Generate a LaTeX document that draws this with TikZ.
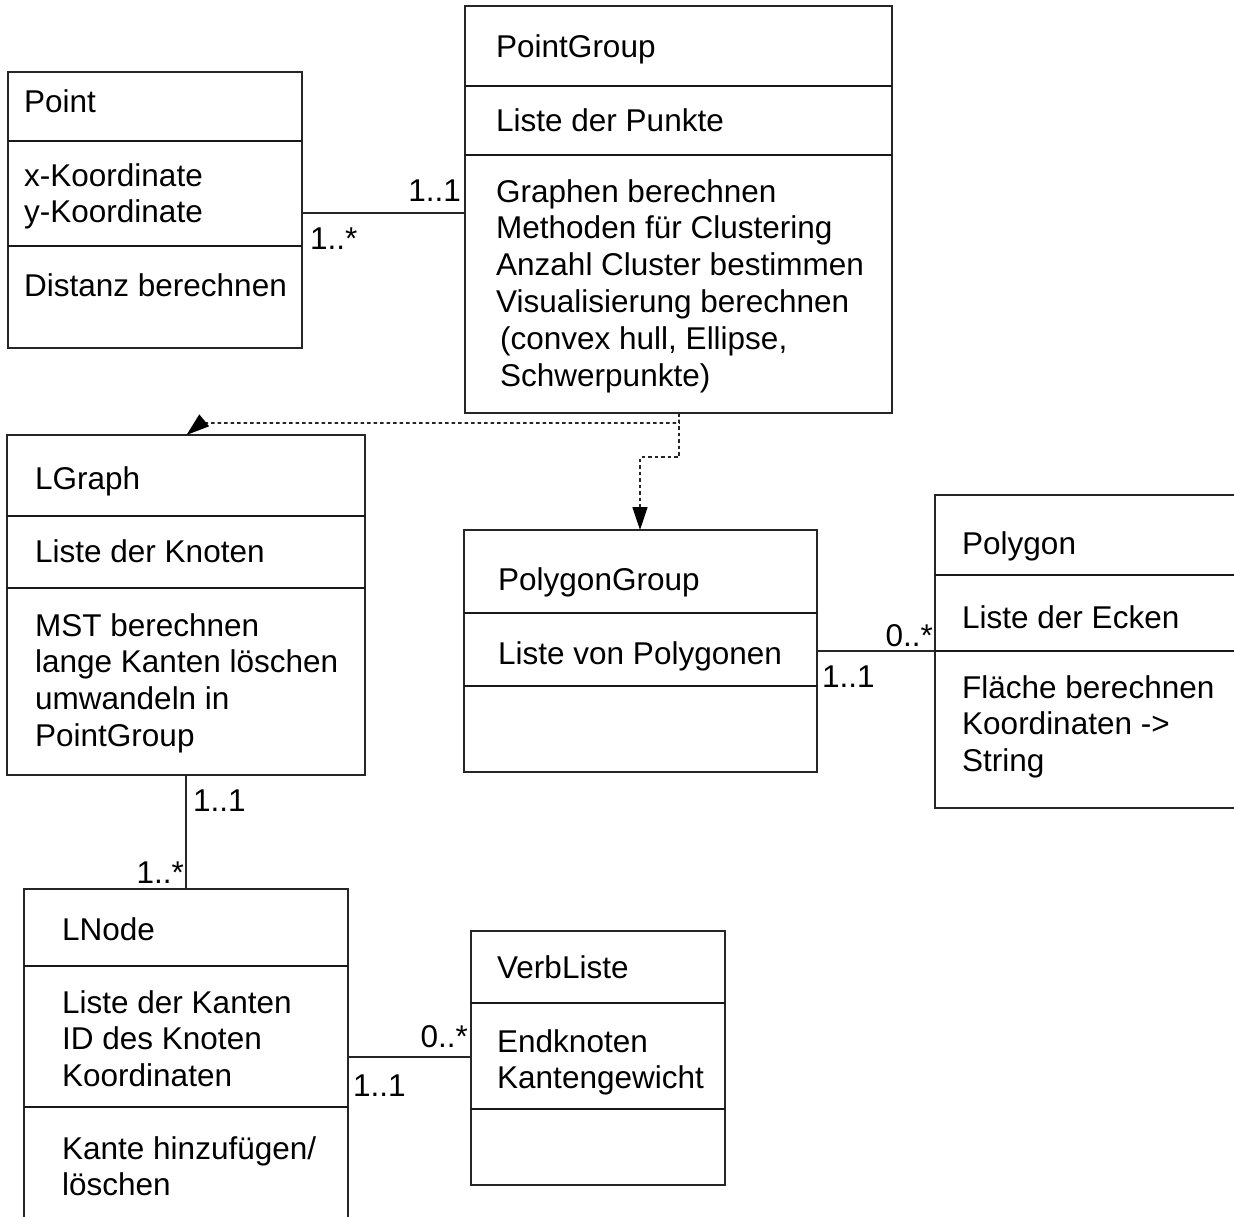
\documentclass[tikz,border=0pt]{standalone}
\usepackage{fontspec}
\usetikzlibrary{arrows.meta}
\newfontfamily\umlsans{Liberation Sans}
\newcommand\umlfont{\umlsans\fontsize{31.5}{36.8}\selectfont}
\tikzset{
  cls/.style={draw=black!85, line width=1.4pt, anchor=north west, inner sep=0pt, outer sep=0pt},
  sep/.style={draw=black!90, line width=1.4pt},
  txt/.style={anchor=north west, inner sep=0pt, align=left, font=\umlfont},
  mult/.style={inner sep=0pt, font=\umlfont},
  assoc/.style={draw=black!85, line width=1.4pt},
  dep/.style={draw=black!85, line width=1.7pt, dash pattern=on 3.5pt off 3pt,
    -{Triangle[length=23pt,width=15pt,color=black]}},
}
\begin{document}
\begin{tikzpicture}[x=1pt,y=-1pt]
\useasboundingbox (0,0) rectangle (1234,1216);
\clip (0,0) rectangle (1234,1216);

% class boxes
\node[cls, minimum width=294pt, minimum height=276pt] (point)  at (8,72)   {};
\node[cls, minimum width=427pt, minimum height=407pt] (pgroup) at (465,6)  {};
\node[cls, minimum width=358pt, minimum height=340pt] (lgraph) at (7,435)  {};
\node[cls, minimum width=353pt, minimum height=242pt] (polyg)  at (464,530){};
\node[cls, minimum width=330pt, minimum height=313pt] (poly)   at (935,495){};
\node[cls, minimum width=324pt, minimum height=360pt] (lnode)  at (24,889) {};
\node[cls, minimum width=254pt, minimum height=254pt] (verb)   at (471,931){};

% compartment separators
\draw[sep] (point.west |- 0,141) -- (point.east |- 0,141);
\draw[sep] (point.west |- 0,246) -- (point.east |- 0,246);
\draw[sep] (pgroup.west |- 0,86) -- (pgroup.east |- 0,86);
\draw[sep] (pgroup.west |- 0,155) -- (pgroup.east |- 0,155);
\draw[sep] (lgraph.west |- 0,516) -- (lgraph.east |- 0,516);
\draw[sep] (lgraph.west |- 0,588) -- (lgraph.east |- 0,588);
\draw[sep] (polyg.west |- 0,613) -- (polyg.east |- 0,613);
\draw[sep] (polyg.west |- 0,686) -- (polyg.east |- 0,686);
\draw[sep] (poly.west |- 0,575) -- (poly.east |- 0,575);
\draw[sep] (poly.west |- 0,651) -- (poly.east |- 0,651);
\draw[sep] (lnode.west |- 0,966) -- (lnode.east |- 0,966);
\draw[sep] (lnode.west |- 0,1107) -- (lnode.east |- 0,1107);
\draw[sep] (verb.west |- 0,1003) -- (verb.east |- 0,1003);
\draw[sep] (verb.west |- 0,1109) -- (verb.east |- 0,1109);

% class texts
\node[txt] (point-n) at (24,86.2)  {\strut Point};
\node[txt] (point-a) at (24,160.2) {\strut x-Koordinate\\y-Koordinate};
\node[txt] (point-m) at (24,270.2) {\strut Distanz berechnen};

\node[txt] (pgroup-n) at (496,31.2)  {\strut PointGroup};
\node[txt] (pgroup-a) at (496,105.2) {\strut Liste der Punkte};
\node[txt] (pgroup-m) at (496,176.2) {\strut Graphen berechnen\\Methoden für Clustering\\Anzahl Cluster bestimmen\\Visualisierung berechnen\\\hspace*{4pt}(convex hull, Ellipse,\\\hspace*{4pt}Schwerpunkte)};

\node[txt] (lgraph-n) at (35,463.2) {\strut LGraph};
\node[txt] (lgraph-a) at (35,536.2) {\strut Liste der Knoten};
\node[txt] (lgraph-m) at (35,610.2) {\strut MST berechnen\\lange Kanten löschen\\umwandeln in\\PointGroup};

\node[txt] (polyg-n) at (498,564.2) {\strut PolygonGroup};
\node[txt] (polyg-a) at (498,638.2) {\strut Liste von Polygonen};

\node[txt] (poly-n) at (962,528.2) {\strut Polygon};
\node[txt] (poly-a) at (962,602.2) {\strut Liste der Ecken};
\node[txt] (poly-m) at (962,672.2) {\strut Fläche berechnen\\Koordinaten ->\\String};

\node[txt] (lnode-n) at (62,914.2)  {\strut LNode};
\node[txt] (lnode-a) at (62,987.2)  {\strut Liste der Kanten\\ID des Knoten\\Koordinaten};
\node[txt] (lnode-m) at (62,1133.2) {\strut Kante hinzufügen/\\löschen};

\node[txt] (verb-n) at (497,952.2)  {\strut VerbListe};
\node[txt] (verb-a) at (497,1026.2) {\strut Endknoten\\Kantengewicht};

% associations
\draw[assoc] (point.east |- 0,213) -- (pgroup.west |- 0,213);
\node[mult, anchor=base east] (m1) at (461,201) {1..1};
\node[mult, anchor=base west] (m2) at (310,249) {1..*};

\draw[assoc] (polyg.east |- 0,651) -- (poly.west |- 0,651);
\node[mult, anchor=base east] (m3) at (933,646) {0..*};
\node[mult, anchor=base west] (m4) at (822,687) {1..1};

\draw[assoc] (lgraph.south -| 186,0) -- (lnode.north -| 186,0);
\node[mult, anchor=base west] (m5) at (193,811) {1..1};
\node[mult, anchor=base east] (m6) at (184,883) {1..*};

\draw[assoc] (lnode.east |- 0,1057) -- (verb.west |- 0,1057);
\node[mult, anchor=base east] (m7) at (468,1047) {0..*};
\node[mult, anchor=base west] (m8) at (353,1096) {1..1};

% dependencies
\coordinate (d0) at (679,423);
\draw[dep] (pgroup.south -| d0) -- (d0) -- (201,423) -- (lgraph.north -| 186.5,0);
\draw[dep] (pgroup.south -| d0) -- (679,457) -- (640,457) -- (polyg.north -| 640,0);
\end{tikzpicture}
\end{document}
